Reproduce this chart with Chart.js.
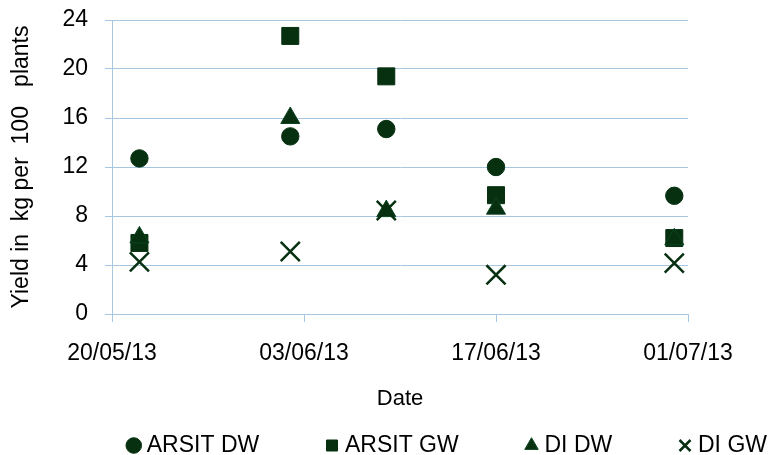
<!DOCTYPE html>
<html lang="en">
<head>
<meta charset="utf-8">
<title>Yield per 100 plants</title>
<script src="https://cdn.jsdelivr.net/npm/chart.js"></script>
<style>
  html, body { margin: 0; padding: 0; background: #fff; }
  canvas { display: block; }
</style>
</head>
<body>
<canvas id="yieldChart" width="768" height="455"></canvas>
<script>
    // sampling dates (dd/mm/yy) and axis range
    const startDate = '20/05/13'
    const sampleDates = ['22/05/13', '02/06/13', '09/06/13', '17/06/13', '30/06/13']
    const xTickStep = 14
    const xMaxDays = 42

    // yield in kg per 100 plants
    const seriesNames = ['ARSIT DW', 'ARSIT GW', 'DI DW', 'DI GW']
    const arsitDW = [12.7, 14.5, 15.1, 12.0, 9.65]
    const arsitGW = [5.8, 22.7, 19.4, 9.7, 6.2]
    const diDW = [6.25, 16.0, 8.4, 8.6, 6.1]
    const diGW = [4.25, 5.1, 8.45, 3.2, 4.15]

    const yTicks = [0, 4, 8, 12, 16, 20, 24]

    const green = '#06300f'
    const gridBlue = '#a6c6e2'
    const font = "'Liberation Sans', Arial, sans-serif"

    function parseDate(s) {
        const [d, m, y] = s.split('/').map(Number)
        return Date.UTC(2000 + y, m - 1, d)
    }

    function dayOffset(s) {
        return Math.round((parseDate(s) - parseDate(startDate)) / 86400000)
    }

    function formatDay(n) {
        const dt = new Date(parseDate(startDate) + n * 86400000)
        const dd = String(dt.getUTCDate()).padStart(2, '0')
        const mm = String(dt.getUTCMonth() + 1).padStart(2, '0')
        const yy = String(dt.getUTCFullYear() % 100).padStart(2, '0')
        return dd + '/' + mm + '/' + yy
    }

    function points(values) {
        return values.map((v, i) => ({x: dayOffset(sampleDates[i]), y: v}))
    }

    const legendGap = ' '.repeat(11)

    new Chart(document.getElementById('yieldChart'), {
        type: 'scatter',
        data: {
            datasets: [{
                label: seriesNames[0],
                data: points(arsitDW),
                pointStyle: 'circle',
                pointRadius: 8.7,
                backgroundColor: green,
                borderColor: green,
                borderWidth: 1,
                order: 4
            }, {
                label: seriesNames[1],
                data: points(arsitGW),
                pointStyle: 'rect',
                pointRadius: 12,
                backgroundColor: green,
                borderColor: green,
                borderWidth: 1,
                order: 3
            }, {
                label: seriesNames[2],
                data: points(diDW),
                pointStyle: 'triangle',
                pointRadius: 11,
                backgroundColor: green,
                borderColor: '#0c4422',
                borderWidth: 1,
                order: 2
            }, {
                label: seriesNames[3],
                data: points(diGW),
                pointStyle: 'crossRot',
                pointRadius: 13.5,
                backgroundColor: green,
                borderColor: green,
                borderWidth: 2.5,
                order: 1
            }]
        },
        options: {
            responsive: false,
            devicePixelRatio: 1,
            animation: false,
            layout: {
                padding: {left: 0, right: 0, top: 20, bottom: -12}
            },
            plugins: {
                tooltip: {enabled: false},
                legend: {
                    position: 'bottom',
                    align: 'end',
                    labels: {
                        usePointStyle: true,
                        boxWidth: 3,
                        boxHeight: 11,
                        padding: 1,
                        color: '#000',
                        font: {family: font, size: 23},
                        sort: (a, b) => a.datasetIndex - b.datasetIndex,
                        generateLabels: (chart) => {
                            const items = Chart.defaults.plugins.legend.labels.generateLabels(chart)
                            items.forEach((it) => {
                                if (it.datasetIndex < seriesNames.length - 1) it.text = it.text + legendGap
                            })
                            return items
                        }
                    }
                }
            },
            scales: {
                x: {
                    type: 'linear',
                    min: 0,
                    max: xMaxDays,
                    afterFit: (s) => {
                        s.height = 119
                        s.paddingRight = 80
                    },
                    afterBuildTicks: (s) => {
                        const t = []
                        for (let v = 0; v <= xMaxDays; v += xTickStep) t.push({value: v})
                        s.ticks = t
                    },
                    grid: {
                        drawOnChartArea: false,
                        drawTicks: true,
                        tickLength: 8,
                        color: gridBlue,
                        lineWidth: 1
                    },
                    border: {display: true, color: gridBlue, width: 1},
                    ticks: {
                        padding: 18,
                        color: '#000',
                        font: {family: font, size: 23},
                        maxRotation: 0,
                        autoSkip: false,
                        callback: (v) => formatDay(v)
                    },
                    title: {
                        display: true,
                        text: 'Date',
                        color: '#000',
                        font: {family: font, size: 22},
                        padding: {top: 4, bottom: 21}
                    }
                },
                y: {
                    min: yTicks[0],
                    max: yTicks[yTicks.length - 1],
                    afterFit: (s) => {
                        s.width = 112
                        s.paddingTop = 0
                        s.paddingBottom = 0
                    },
                    afterBuildTicks: (s) => {
                        s.ticks = yTicks.map(v => ({value: v}))
                    },
                    grid: {
                        color: gridBlue,
                        lineWidth: 1,
                        drawTicks: true,
                        tickLength: 7
                    },
                    border: {display: true, color: gridBlue, width: 1},
                    ticks: {
                        padding: 17,
                        color: '#000',
                        font: {family: font, size: 23}
                    },
                    title: {
                        display: true,
                        text: 'Yield in  kg per  100   plants',
                        color: '#000',
                        font: {family: font, size: 23},
                        padding: {top: 8, bottom: 4}
                    }
                }
            }
        }
    })
</script>
</body>
</html>
